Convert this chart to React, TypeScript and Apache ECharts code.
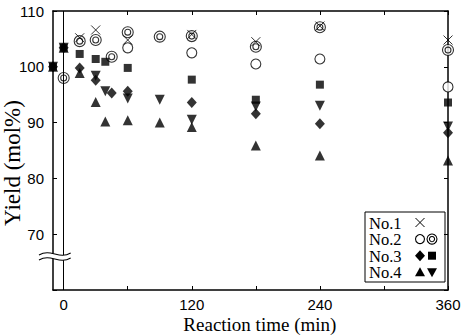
import React, { useEffect, useRef } from "react";
import * as echarts from "echarts";

// Axis ticks and labels
const xTickValues = [0, 60, 120, 180, 240, 300, 360];
const xLabelValues = [0, 120, 240, 360];
const xRange = [-10, 360];
const yRange = [60, 110];
const breakAt = 66;
const xTitle = "Reaction time (min)";
const yTitle = "Yield (mol%)";

// Yield (mol%) against reaction time (min)
const no1Cross: [number, number][] = [
  [15, 105.2], [30, 106.6], [60, 104.8], [120, 105.8], [180, 104.5], [240, 107.3], [360, 104.8],
];
const no2Open: [number, number][] = [
  [60, 103.4], [120, 102.5], [180, 100.5], [240, 101.4], [360, 96.4],
];
const no2Double: [number, number][] = [
  [0, 98.0], [15, 104.6], [30, 104.8], [45, 101.8], [60, 106.2], [90, 105.4],
  [120, 105.5], [180, 103.6], [240, 107.1], [360, 103.0],
];
const no3Diamond: [number, number][] = [
  [-10, 100], [0, 103.4], [15, 99.8], [30, 97.6], [45, 95.3], [60, 95.6],
  [120, 93.6], [180, 91.6], [240, 89.8], [360, 88.2],
];
const no3Square: [number, number][] = [
  [-10, 100], [0, 103.4], [15, 102.3], [30, 101.4], [39, 100.9], [60, 99.8],
  [120, 97.7], [180, 94.1], [240, 96.8], [360, 93.6],
];
const no4Up: [number, number][] = [
  [-10, 100], [0, 103.4], [15, 98.9], [30, 93.7], [39, 90.2], [60, 90.4],
  [90, 90.0], [120, 89.2], [180, 85.9], [240, 84.1], [360, 83.2],
];
const no4Down: [number, number][] = [
  [-10, 100], [0, 103.4], [30, 98.4], [39, 95.6], [60, 94.3], [90, 94.1],
  [120, 90.5], [180, 92.9], [240, 93.0], [360, 89.3],
];

const legendNames = ["No.1", "No.2", "No.3", "No.4"];

const SANS = "Liberation Sans";
const SERIF = "Liberation Serif";
const BLACK = "#000";

const crossPath = "path://M0,0L10,10M10,0L0,10";
const ringPath =
  "path://M0,5a5,5 0 1,0 10,0a5,5 0 1,0 -10,0ZM2.3,5a2.7,2.7 0 1,0 5.4,0a2.7,2.7 0 1,0 -5.4,0Z";

function scatter(name: string, data: [number, number][], symbol: string, size: any, filled: boolean, extra: any = {}) {
  return {
    type: "scatter",
    name,
    data,
    symbol,
    symbolSize: size,
    itemStyle: filled
      ? { color: BLACK, borderWidth: 0 }
      : { color: "#fff", borderColor: BLACK, borderWidth: 1.1 },
    emphasis: { disabled: true },
    z: filled ? 4 : 3,
    ...extra,
  };
}

export default function App() {
  const ref = useRef<HTMLDivElement>(null);

  useEffect(() => {
    if (!ref.current) return;
    const chart = echarts.init(ref.current, undefined, { renderer: "svg" });

    const axisLine = { show: true, onZero: false, lineStyle: { color: BLACK, width: 1.5 } };
    const tick = { show: true, inside: true, length: 4, lineStyle: { color: BLACK, width: 1 } };

    chart.setOption({
      animation: false,
      backgroundColor: "#fff",
      grid: { left: 53, right: 15, top: 11, bottom: 46, containLabel: false, outerBoundsMode: "none" },
      xAxis: [
        {
          type: "value",
          min: xRange[0],
          max: xRange[1],
          position: "bottom",
          axisLine,
          axisTick: { ...tick, customValues: xTickValues },
          axisLabel: {
            customValues: xLabelValues,
            color: BLACK,
            fontFamily: SANS,
            fontSize: 15,
            margin: 7,
          },
          splitLine: { show: false },
        },
        {
          type: "value",
          min: xRange[0],
          max: xRange[1],
          position: "top",
          axisLine,
          axisTick: { ...tick, customValues: xTickValues },
          axisLabel: { show: false },
          splitLine: { show: false },
        },
      ],
      yAxis: [
        {
          type: "value",
          min: yRange[0],
          max: yRange[1],
          interval: 10,
          position: "left",
          axisLine,
          axisTick: tick,
          axisLabel: {
            color: BLACK,
            fontFamily: SANS,
            fontSize: 15,
            margin: 9,
            formatter: (v: number) => (v === yRange[0] ? "" : String(v)),
          },
          splitLine: { show: false },
        },
        {
          type: "value",
          min: yRange[0],
          max: yRange[1],
          interval: 10,
          position: "right",
          axisLine,
          axisTick: tick,
          axisLabel: { show: false },
          splitLine: { show: false },
        },
      ],
      series: [
        scatter("No.2 open", no2Open, "circle", 10, false),
        scatter("No.2 double", no2Double, ringPath, 11, false, {
          markLine: {
            silent: true,
            symbol: ["none", "none"],
            label: { show: false },
            lineStyle: { color: BLACK, width: 1, type: "solid" },
            data: [{ xAxis: 0 }],
          },
        }),
        {
          ...scatter("No.1", no1Cross, crossPath, 9, false),
          itemStyle: { color: "none", borderColor: BLACK, borderWidth: 1 },
        },
        scatter("No.3 square", no3Square, "rect", 8, true),
        scatter("No.3 diamond", no3Diamond, "diamond", [10, 11], true),
        scatter("No.4 down", no4Down, "triangle", 10, true, { symbolRotate: 180 }),
        scatter("No.4 up", no4Up, "triangle", 10, true),
      ],
    });

    // Axis break marks, titles and the key, placed from the axis scales
    const xLeft = chart.convertToPixel({ xAxisIndex: 0 }, xRange[0]) as number;
    const xZero = chart.convertToPixel({ xAxisIndex: 0 }, 0) as number;
    const xEnd = chart.convertToPixel({ xAxisIndex: 0 }, xRange[1]) as number;
    const yBreak = chart.convertToPixel({ yAxisIndex: 0 }, breakAt) as number;
    const yBottom = chart.convertToPixel({ yAxisIndex: 0 }, yRange[0]) as number;
    const bx1 = xLeft - 14;
    const bx2 = xZero + 7;
    const bm = (bx1 + bx2) / 2;
    const wave = (dy: number, stroke: string, width: number) => ({
      type: "bezierCurve",
      shape: {
        x1: bx1, y1: yBreak + dy + 1,
        cpx1: bm - 4, cpy1: yBreak + dy - 6,
        cpx2: bm + 4, cpy2: yBreak + dy + 6,
        x2: bx2, y2: yBreak + dy - 1,
      },
      style: { stroke, lineWidth: width, fill: "none" },
      z: 100,
    });

    const gx = 365;
    const gy = 212;
    const rowH = 16.6;
    const m1 = 420;
    const m2 = 432;
    const cy = (i: number) => gy + 10.5 + i * rowH;
    const legendChildren: any[] = [
      { type: "rect", shape: { x: gx, y: gy, width: 80, height: 70 }, style: { fill: "#fff", stroke: BLACK, lineWidth: 1 } },
    ];
    legendNames.forEach((n, i) => {
      legendChildren.push({
        type: "text",
        x: gx + 4,
        y: cy(i) + 0.5,
        style: { text: n, font: `16.5px '${SERIF}'`, fill: BLACK, verticalAlign: "middle" },
      });
    });
    // No.1
    legendChildren.push(
      { type: "line", shape: { x1: m1 - 4.5, y1: cy(0) - 4.5, x2: m1 + 4.5, y2: cy(0) + 4.5 }, style: { stroke: BLACK, lineWidth: 1 } },
      { type: "line", shape: { x1: m1 - 4.5, y1: cy(0) + 4.5, x2: m1 + 4.5, y2: cy(0) - 4.5 }, style: { stroke: BLACK, lineWidth: 1 } },
    );
    // No.2
    legendChildren.push(
      { type: "circle", shape: { cx: m1, cy: cy(1), r: 4.5 }, style: { fill: "#fff", stroke: BLACK, lineWidth: 1.1 } },
      { type: "circle", shape: { cx: m2, cy: cy(1), r: 5 }, style: { fill: "#fff", stroke: BLACK, lineWidth: 1.1 } },
      { type: "circle", shape: { cx: m2, cy: cy(1), r: 2.6 }, style: { fill: "#fff", stroke: BLACK, lineWidth: 1.1 } },
    );
    // No.3
    legendChildren.push(
      { type: "polygon", shape: { points: [[m1, cy(2) - 5.5], [m1 + 5, cy(2)], [m1, cy(2) + 5.5], [m1 - 5, cy(2)]] }, style: { fill: BLACK } },
      { type: "rect", shape: { x: m2 - 4, y: cy(2) - 4, width: 8, height: 8 }, style: { fill: BLACK } },
    );
    // No.4
    legendChildren.push(
      { type: "polygon", shape: { points: [[m1, cy(3) - 5], [m1 + 5, cy(3) + 4], [m1 - 5, cy(3) + 4]] }, style: { fill: BLACK } },
      { type: "polygon", shape: { points: [[m2 - 5, cy(3) - 4], [m2 + 5, cy(3) - 4], [m2, cy(3) + 5]] }, style: { fill: BLACK } },
    );

    chart.setOption({
      graphic: [
        {
          type: "group",
          children: [wave(0, "#fff", 5), wave(-2.5, BLACK, 1.1), wave(2.5, BLACK, 1.1)],
        },
        { type: "group", z: 90, children: legendChildren },
        {
          type: "text",
          x: (xZero + xEnd) / 2 + 4,
          y: yBottom + 34,
          style: { text: xTitle, font: `19px '${SERIF}'`, fill: BLACK, align: "center", verticalAlign: "middle" },
        },
        {
          type: "text",
          x: 12,
          y: 163,
          rotation: Math.PI / 2,
          style: { text: yTitle, font: `23px '${SERIF}'`, fill: BLACK, align: "center", verticalAlign: "middle" },
        },
      ],
    });

    return () => chart.dispose();
  }, []);

  return (
    <div
      ref={ref}
      style={{ position: "fixed", left: 0, top: 0, width: 463, height: 336 }}
    />
  );
}
